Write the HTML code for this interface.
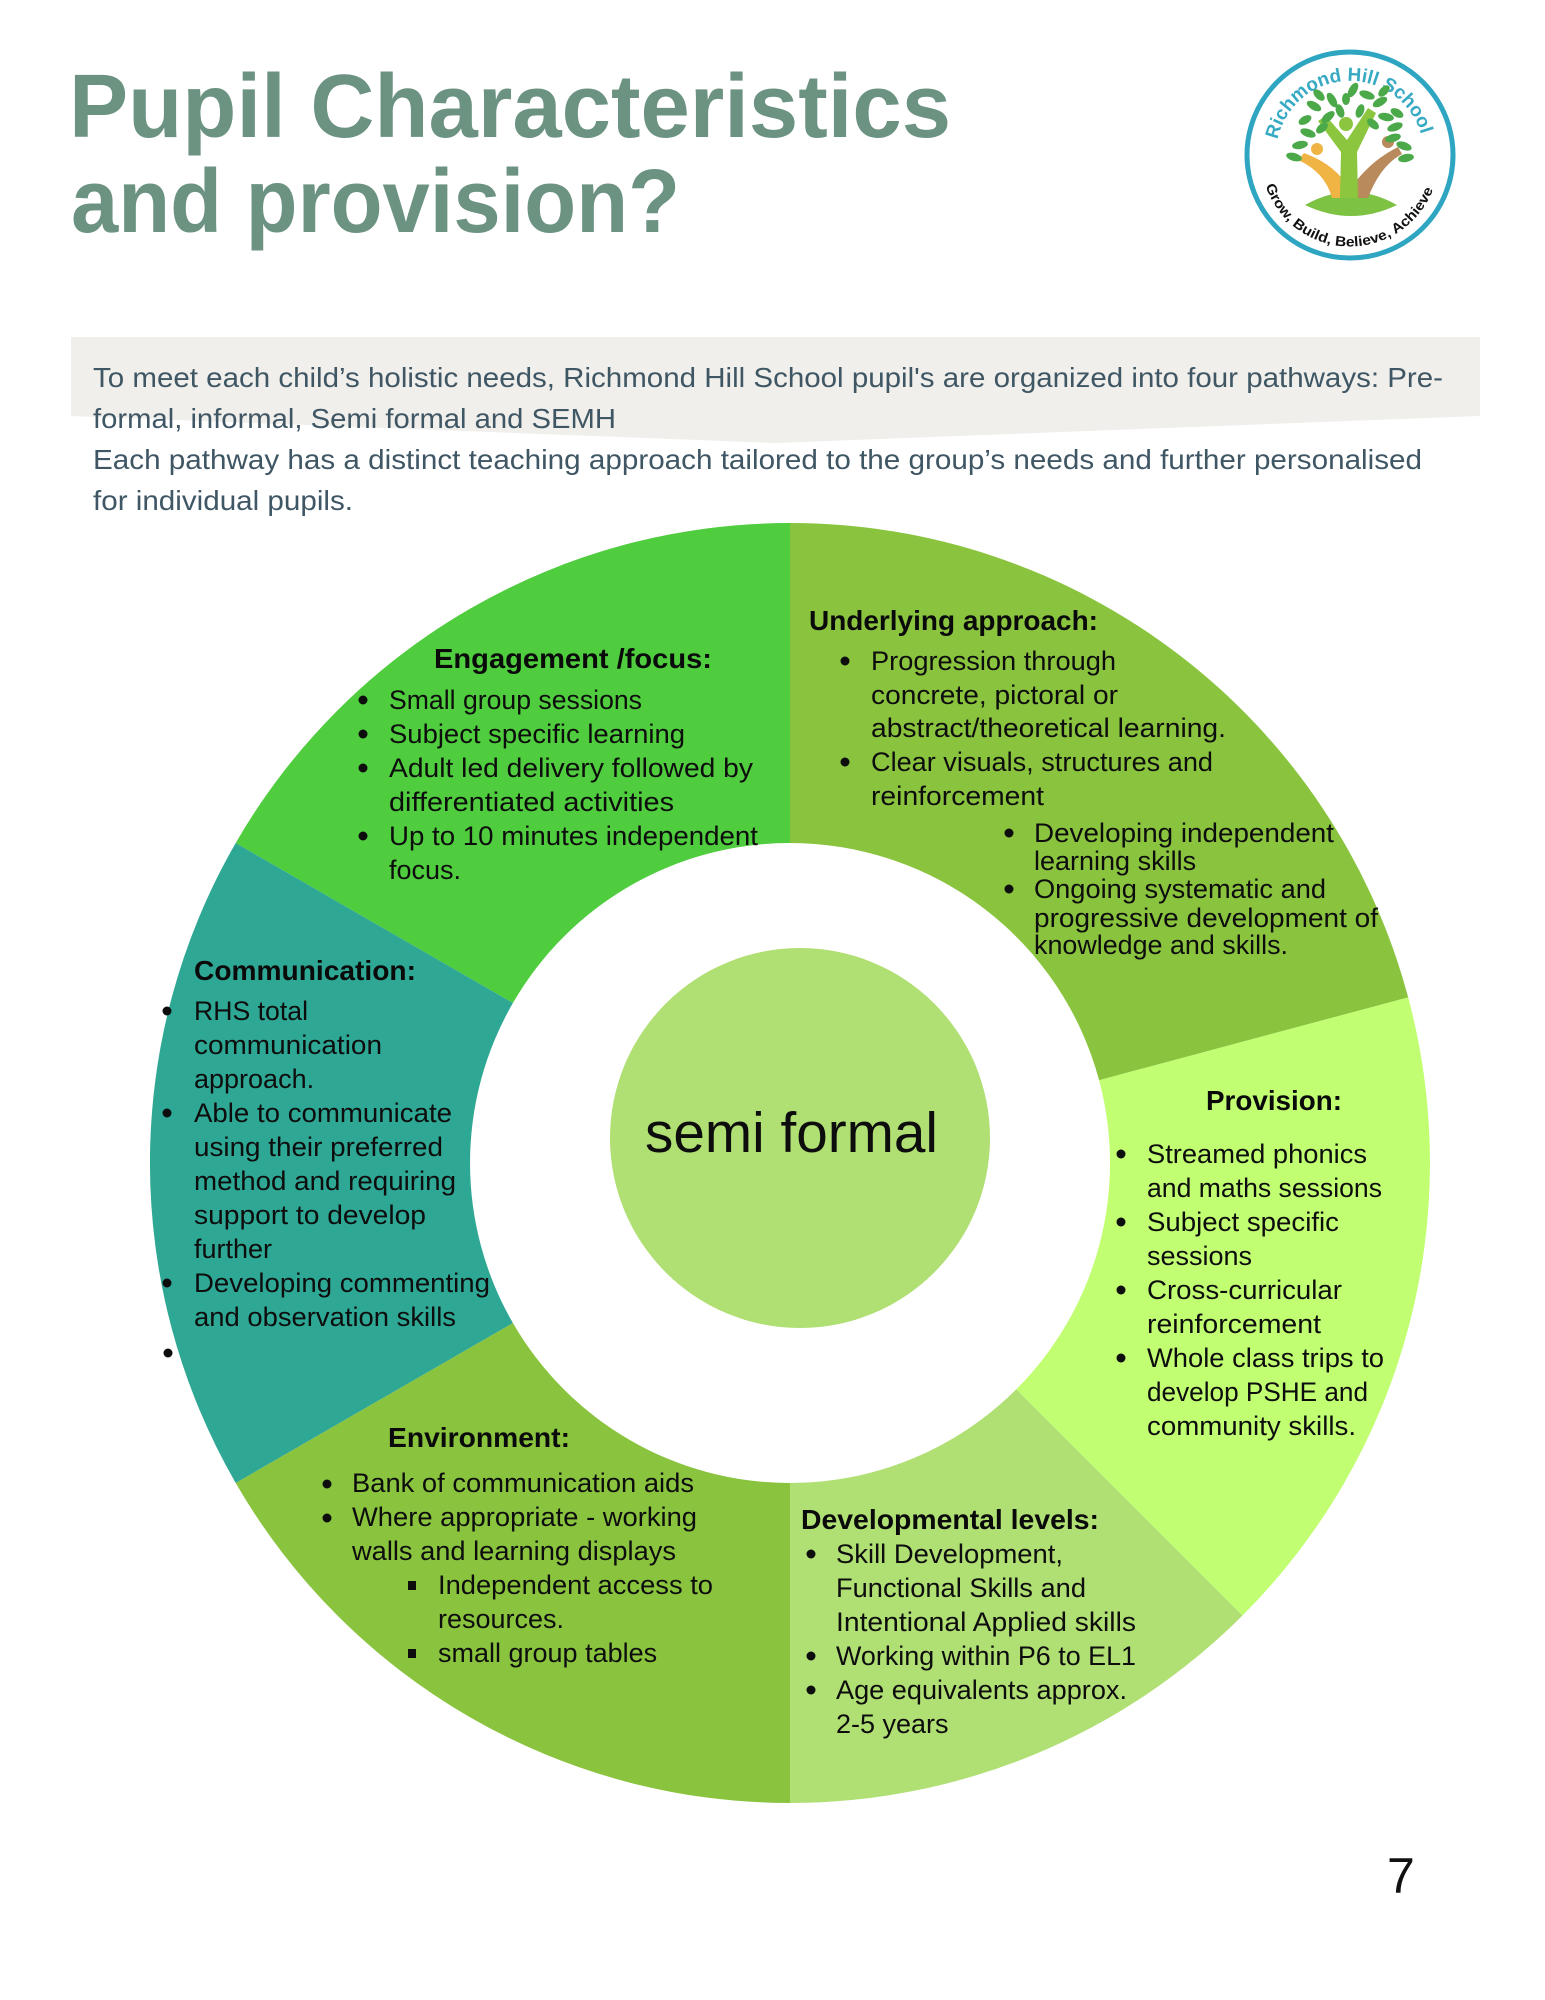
<!DOCTYPE html>
<html>
<head>
<meta charset="utf-8">
<style>
  html,body{margin:0;padding:0;background:#fff;}
  svg{display:block;}
  .t{font-family:"Liberation Sans",Arial,sans-serif;font-weight:bold;fill:#6c9282;font-size:90px;}
  .i{font-family:"Liberation Sans",Arial,sans-serif;fill:#3f5664;font-size:28px;}
  .b{font-family:"Liberation Sans",Arial,sans-serif;fill:#0d0d0d;font-size:27px;}
  .h{font-family:"Liberation Sans",Arial,sans-serif;fill:#0a0a0a;font-size:28px;font-weight:bold;}
</style>
</head>
<body>
<svg width="1545" height="2000" viewBox="0 0 1545 2000" xmlns="http://www.w3.org/2000/svg">
  <rect width="1545" height="2000" fill="#ffffff"/>

  <!-- Title -->
  <text class="t" x="69" y="137" textLength="882" lengthAdjust="spacingAndGlyphs">Pupil Characteristics</text>
  <text class="t" x="71" y="232" textLength="609" lengthAdjust="spacingAndGlyphs">and provision?</text>

  <!-- Logo -->
  <defs>
    <path id="arcTop" d="M1277.6,139.6 A74,74 0 0 1 1422.4,139.6"/>
    <path id="arcBot" d="M1263.4,178.0 A89,89 0 0 0 1436.6,178.0"/>
  </defs>
  <circle cx="1350" cy="155" r="103" fill="#ffffff" stroke="#2ea6c1" stroke-width="5"/>
  <text font-family="Liberation Sans, Arial, sans-serif" font-weight="bold" font-size="19" fill="#36a9c3">
    <textPath href="#arcTop" startOffset="0" textLength="196" lengthAdjust="spacingAndGlyphs">Richmond Hill School</textPath>
  </text>
  <text font-family="Liberation Sans, Arial, sans-serif" font-weight="bold" font-size="14" fill="#111">
    <textPath href="#arcBot" startOffset="8" textLength="218" lengthAdjust="spacingAndGlyphs">Grow, Build, Believe, Achieve</textPath>
  </text>
  <!-- tree -->
  <g>
    <path d="M1305,205 Q1351,179 1397,205 Q1351,227 1305,205 Z" fill="#7dc243"/>
    <path d="M1332,198 Q1325,172 1298,160 L1304,153 Q1331,163 1344,181 L1344,198 Z" fill="#f0b444"/>
    <circle cx="1317" cy="149" r="6" fill="#f0b444"/>
    <path d="M1357,198 L1357,180 Q1374,159 1398,147 L1402,154 Q1380,166 1368,198 Z" fill="#b98a5c"/>
    <circle cx="1388" cy="142" r="6" fill="#b98a5c"/>
    <path d="M1340,198 L1341,152 L1318,121 L1326,116 L1347,140 L1368,108 L1376,113 L1357,152 L1358,198 Z" fill="#8cc63f"/>
    <circle cx="1346" cy="124" r="7" fill="#8cc63f"/>
    <g fill="#4ca94a">
      <ellipse cx="1314" cy="106" rx="8" ry="4" transform="rotate(30 1314 106)"/>
      <ellipse cx="1328" cy="117" rx="8" ry="4" transform="rotate(-40 1328 117)"/>
      <ellipse cx="1332" cy="100" rx="8" ry="4" transform="rotate(60 1332 100)"/>
      <ellipse cx="1353" cy="90" rx="8" ry="4" transform="rotate(-60 1353 90)"/>
      <ellipse cx="1367" cy="95" rx="8" ry="4" transform="rotate(20 1367 95)"/>
      <ellipse cx="1380" cy="102" rx="8" ry="4" transform="rotate(-30 1380 102)"/>
      <ellipse cx="1386" cy="117" rx="8" ry="4" transform="rotate(10 1386 117)"/>
      <ellipse cx="1395" cy="127" rx="8" ry="4" transform="rotate(-20 1395 127)"/>
      <ellipse cx="1308" cy="133" rx="8" ry="4" transform="rotate(20 1308 133)"/>
      <ellipse cx="1300" cy="145" rx="8" ry="4" transform="rotate(-10 1300 145)"/>
      <ellipse cx="1294" cy="157" rx="8" ry="4" transform="rotate(15 1294 157)"/>
      <ellipse cx="1393" cy="138" rx="8" ry="4" transform="rotate(-15 1393 138)"/>
      <ellipse cx="1404" cy="146" rx="8" ry="4" transform="rotate(20 1404 146)"/>
      <ellipse cx="1406" cy="158" rx="8" ry="4" transform="rotate(-10 1406 158)"/>
      <ellipse cx="1373" cy="124" rx="7" ry="4" transform="rotate(40 1373 124)"/>
      <ellipse cx="1322" cy="128" rx="7" ry="4" transform="rotate(-40 1322 128)"/>
      <ellipse cx="1340" cy="111" rx="7" ry="4" transform="rotate(70 1340 111)"/>
      <ellipse cx="1360" cy="111" rx="7" ry="4" transform="rotate(-70 1360 111)"/>
      <ellipse cx="1346" cy="99" rx="6" ry="4" transform="rotate(90 1346 99)"/>
      <ellipse cx="1319" cy="95" rx="7" ry="4" transform="rotate(45 1319 95)"/>
      <ellipse cx="1384" cy="91" rx="7" ry="4" transform="rotate(-45 1384 91)"/>
      <ellipse cx="1305" cy="120" rx="7" ry="4" transform="rotate(-30 1305 120)"/>
      <ellipse cx="1397" cy="113" rx="7" ry="4" transform="rotate(30 1397 113)"/>
    </g>
  </g>

  <!-- Intro box -->
  <polygon points="71,337 1480,337 1480,416 775,443 71,416" fill="#f0efeb"/>
  <text class="i" x="93" y="387" textLength="1350" lengthAdjust="spacingAndGlyphs">To meet each child’s holistic needs, Richmond Hill School pupil's are organized into four pathways: Pre-</text>
  <text class="i" x="93" y="428" textLength="523" lengthAdjust="spacingAndGlyphs">formal, informal, Semi formal and SEMH</text>
  <text class="i" x="93" y="469" textLength="1329" lengthAdjust="spacingAndGlyphs">Each pathway has a distinct teaching approach tailored to the group’s needs and further personalised</text>
  <text class="i" x="93" y="510" textLength="260" lengthAdjust="spacingAndGlyphs">for individual pupils.</text>

  <!-- Donut segments -->
  <path d="M235.7,843 A640,640 0 0 1 790,523 L790,843 A320,320 0 0 0 512.9,1003 Z" fill="#4fcd3e"/>
  <path d="M790,523 A640,640 0 0 1 1408.2,997.4 L1099.1,1080.2 A320,320 0 0 0 790,843 Z" fill="#8ac43f"/>
  <path d="M1408.2,997.4 A640,640 0 0 1 1242.5,1615.5 L1016.3,1389.3 A320,320 0 0 0 1099.1,1080.2 Z" fill="#c1fe72"/>
  <path d="M1242.5,1615.5 A640,640 0 0 1 790,1803 L790,1483 A320,320 0 0 0 1016.3,1389.3 Z" fill="#b0df73"/>
  <path d="M790,1803 A640,640 0 0 1 235.7,1483 L512.9,1323 A320,320 0 0 0 790,1483 Z" fill="#8ac43f"/>
  <path d="M235.7,1483 A640,640 0 0 1 235.7,843 L512.9,1003 A320,320 0 0 0 512.9,1323 Z" fill="#2ea794"/>

  <!-- Center circle -->
  <circle cx="800" cy="1138" r="190" fill="#b0df73"/>
  <text x="645" y="1152" font-family="Liberation Sans, Arial, sans-serif" font-size="57" fill="#0d0d0d" textLength="293" lengthAdjust="spacingAndGlyphs">semi formal</text>

  <!-- Engagement -->
  <text class="h" x="434" y="668" textLength="278" lengthAdjust="spacingAndGlyphs">Engagement /focus:</text>
  <g fill="#0d0d0d">
    <circle cx="363" cy="700" r="4.5"/><circle cx="363" cy="734" r="4.5"/><circle cx="363" cy="768" r="4.5"/><circle cx="363" cy="836" r="4.5"/>
  </g>
  <text class="b" x="389" y="709" textLength="253" lengthAdjust="spacingAndGlyphs">Small group sessions</text>
  <text class="b" x="389" y="743" textLength="296" lengthAdjust="spacingAndGlyphs">Subject specific learning</text>
  <text class="b" x="389" y="777" textLength="364" lengthAdjust="spacingAndGlyphs">Adult led delivery followed by</text>
  <text class="b" x="389" y="811" textLength="285" lengthAdjust="spacingAndGlyphs">differentiated activities</text>
  <text class="b" x="389" y="845" textLength="369" lengthAdjust="spacingAndGlyphs">Up to 10 minutes independent</text>
  <text class="b" x="389" y="879">focus.</text>

  <!-- Underlying approach -->
  <text class="h" x="809" y="630" textLength="289" lengthAdjust="spacingAndGlyphs">Underlying approach:</text>
  <g fill="#0d0d0d">
    <circle cx="845" cy="661" r="4.5"/><circle cx="845" cy="762" r="4.5"/>
    <circle cx="1009" cy="833" r="4.5"/><circle cx="1009" cy="889" r="4.5"/>
  </g>
  <text class="b" x="871" y="670" textLength="245" lengthAdjust="spacingAndGlyphs">Progression through</text>
  <text class="b" x="871" y="704" textLength="247" lengthAdjust="spacingAndGlyphs">concrete, pictoral or</text>
  <text class="b" x="871" y="737" textLength="355" lengthAdjust="spacingAndGlyphs">abstract/theoretical learning.</text>
  <text class="b" x="871" y="771" textLength="342" lengthAdjust="spacingAndGlyphs">Clear visuals, structures and</text>
  <text class="b" x="871" y="805" textLength="173" lengthAdjust="spacingAndGlyphs">reinforcement</text>
  <text class="b" x="1034" y="842" textLength="300" lengthAdjust="spacingAndGlyphs">Developing independent</text>
  <text class="b" x="1034" y="870">learning skills</text>
  <text class="b" x="1034" y="898" textLength="292" lengthAdjust="spacingAndGlyphs">Ongoing systematic and</text>
  <text class="b" x="1034" y="927" textLength="344" lengthAdjust="spacingAndGlyphs">progressive development of</text>
  <text class="b" x="1034" y="954" textLength="254" lengthAdjust="spacingAndGlyphs">knowledge and skills.</text>

  <!-- Provision -->
  <text class="h" x="1206" y="1110" textLength="136" lengthAdjust="spacingAndGlyphs">Provision:</text>
  <g fill="#0d0d0d">
    <circle cx="1121" cy="1154" r="4.5"/><circle cx="1121" cy="1222" r="4.5"/><circle cx="1121" cy="1290" r="4.5"/><circle cx="1121" cy="1358" r="4.5"/>
  </g>
  <text class="b" x="1147" y="1163" textLength="220" lengthAdjust="spacingAndGlyphs">Streamed phonics</text>
  <text class="b" x="1147" y="1197" textLength="235" lengthAdjust="spacingAndGlyphs">and maths sessions</text>
  <text class="b" x="1147" y="1231" textLength="192" lengthAdjust="spacingAndGlyphs">Subject specific</text>
  <text class="b" x="1147" y="1265">sessions</text>
  <text class="b" x="1147" y="1299" textLength="195" lengthAdjust="spacingAndGlyphs">Cross-curricular</text>
  <text class="b" x="1147" y="1333" textLength="174" lengthAdjust="spacingAndGlyphs">reinforcement</text>
  <text class="b" x="1147" y="1367" textLength="237" lengthAdjust="spacingAndGlyphs">Whole class trips to</text>
  <text class="b" x="1147" y="1401" textLength="221" lengthAdjust="spacingAndGlyphs">develop PSHE and</text>
  <text class="b" x="1147" y="1435" textLength="209" lengthAdjust="spacingAndGlyphs">community skills.</text>

  <!-- Communication -->
  <text class="h" x="194" y="980" textLength="222" lengthAdjust="spacingAndGlyphs">Communication:</text>
  <g fill="#0d0d0d">
    <circle cx="167" cy="1011" r="4.5"/><circle cx="167" cy="1113" r="4.5"/><circle cx="167" cy="1283" r="4.5"/><circle cx="168" cy="1353" r="4.5"/>
  </g>
  <text class="b" x="194" y="1020" textLength="114" lengthAdjust="spacingAndGlyphs">RHS total</text>
  <text class="b" x="194" y="1054" textLength="188" lengthAdjust="spacingAndGlyphs">communication</text>
  <text class="b" x="194" y="1088">approach.</text>
  <text class="b" x="194" y="1122" textLength="258" lengthAdjust="spacingAndGlyphs">Able to communicate</text>
  <text class="b" x="194" y="1156" textLength="249" lengthAdjust="spacingAndGlyphs">using their preferred</text>
  <text class="b" x="194" y="1190" textLength="262" lengthAdjust="spacingAndGlyphs">method and requiring</text>
  <text class="b" x="194" y="1224" textLength="232" lengthAdjust="spacingAndGlyphs">support to develop</text>
  <text class="b" x="194" y="1258">further</text>
  <text class="b" x="194" y="1292" textLength="296" lengthAdjust="spacingAndGlyphs">Developing commenting</text>
  <text class="b" x="194" y="1326" textLength="262" lengthAdjust="spacingAndGlyphs">and observation skills</text>

  <!-- Environment -->
  <text class="h" x="388" y="1447" textLength="182" lengthAdjust="spacingAndGlyphs">Environment:</text>
  <g fill="#0d0d0d">
    <circle cx="327" cy="1484" r="4.5"/><circle cx="327" cy="1518" r="4.5"/>
    <rect x="408" y="1581" width="8" height="9"/><rect x="408" y="1649" width="8" height="9"/>
  </g>
  <text class="b" x="352" y="1492" textLength="342" lengthAdjust="spacingAndGlyphs">Bank of communication aids</text>
  <text class="b" x="352" y="1526" textLength="345" lengthAdjust="spacingAndGlyphs">Where appropriate - working</text>
  <text class="b" x="352" y="1560" textLength="324" lengthAdjust="spacingAndGlyphs">walls and learning displays</text>
  <text class="b" x="438" y="1594" textLength="275" lengthAdjust="spacingAndGlyphs">Independent access to</text>
  <text class="b" x="438" y="1628">resources.</text>
  <text class="b" x="438" y="1662">small group tables</text>

  <!-- Developmental levels -->
  <text class="h" x="801" y="1529" textLength="298" lengthAdjust="spacingAndGlyphs">Developmental levels:</text>
  <g fill="#0d0d0d">
    <circle cx="811" cy="1554" r="4.5"/><circle cx="811" cy="1656" r="4.5"/><circle cx="811" cy="1690" r="4.5"/>
  </g>
  <text class="b" x="836" y="1563" textLength="227" lengthAdjust="spacingAndGlyphs">Skill Development,</text>
  <text class="b" x="836" y="1597" textLength="250" lengthAdjust="spacingAndGlyphs">Functional Skills and</text>
  <text class="b" x="836" y="1631" textLength="300" lengthAdjust="spacingAndGlyphs">Intentional Applied skills</text>
  <text class="b" x="836" y="1665" textLength="300" lengthAdjust="spacingAndGlyphs">Working within P6 to EL1</text>
  <text class="b" x="836" y="1699" textLength="291" lengthAdjust="spacingAndGlyphs">Age equivalents approx.</text>
  <text class="b" x="836" y="1733">2-5 years</text>

  <!-- Page number -->
  <text x="1387" y="1893" font-family="Liberation Sans, Arial, sans-serif" font-size="50" fill="#111">7</text>
</svg>
</body>
</html>
